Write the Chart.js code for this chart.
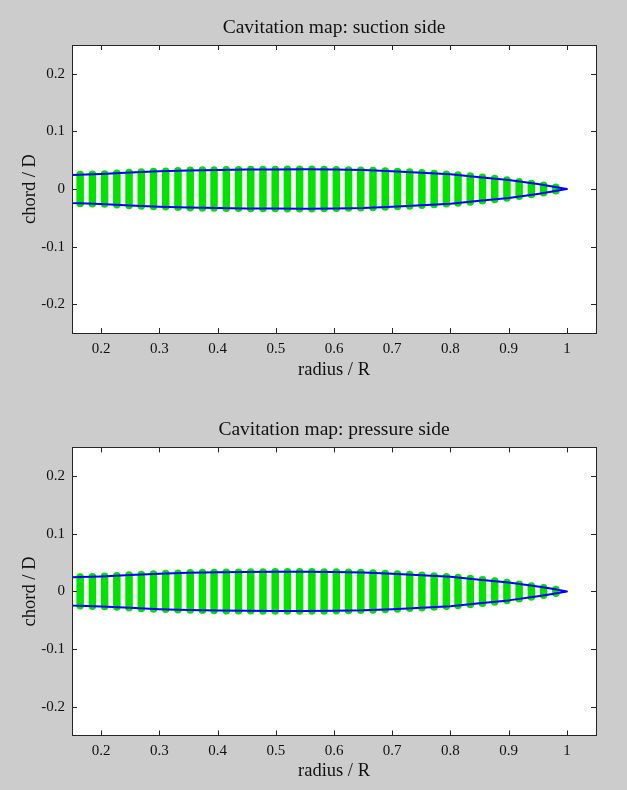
<!DOCTYPE html>
<html>
<head>
<meta charset="utf-8">
<script src="https://cdn.jsdelivr.net/npm/chart.js@4.4.1/dist/chart.umd.min.js"></script>
<style>
  html, body { margin: 0; padding: 0; background: #cccccc; }
  canvas { display: block; }
</style>
</head>
<body>
<canvas id="suction" width="627" height="395"></canvas>
<canvas id="pressure" width="627" height="395"></canvas>
<script>
// ─── Data ────────────────────────────────────────────────────────────────────
const X_TICKS = [0.2, 0.3, 0.4, 0.5, 0.6, 0.7, 0.8, 0.9, 1];
const Y_TICKS = [-0.2, -0.1, 0, 0.1, 0.2];

// radial stations of the green panel columns
const COL_R = [
  0.164, 0.185, 0.206, 0.227, 0.248, 0.269, 0.290, 0.311, 0.332, 0.353,
  0.374, 0.394, 0.415, 0.436, 0.457, 0.478, 0.499, 0.520, 0.541, 0.562,
  0.583, 0.604, 0.625, 0.646, 0.667, 0.688, 0.709, 0.730, 0.751, 0.772,
  0.793, 0.813, 0.834, 0.855, 0.876, 0.897, 0.918, 0.939, 0.960, 0.981,
];
// chordwise extent of each column (leading / trailing edge, chord / D)
const COL_UP = [
  0.0250, 0.0255, 0.0262, 0.0272, 0.0285, 0.0295, 0.0303, 0.0310, 0.0318, 0.0324,
  0.0328, 0.0331, 0.0333, 0.0335, 0.0337, 0.0339, 0.0340, 0.0341, 0.0341, 0.0341,
  0.0339, 0.0336, 0.0332, 0.0327, 0.0320, 0.0312, 0.0303, 0.0293, 0.0282, 0.0270,
  0.0257, 0.0243, 0.0225, 0.0205, 0.0182, 0.0155, 0.0126, 0.0096, 0.0064, 0.0032,
];
const COL_LO = [
  -0.0250, -0.0255, -0.0262, -0.0272, -0.0285, -0.0295, -0.0303, -0.0310, -0.0318, -0.0324,
  -0.0328, -0.0331, -0.0333, -0.0335, -0.0337, -0.0339, -0.0340, -0.0341, -0.0341, -0.0341,
  -0.0339, -0.0336, -0.0332, -0.0327, -0.0320, -0.0312, -0.0303, -0.0293, -0.0282, -0.0270,
  -0.0257, -0.0243, -0.0225, -0.0205, -0.0182, -0.0155, -0.0126, -0.0096, -0.0064, -0.0032,
];

// blade outline (blue)
const OUTLINE_R  = [0.15, 0.20, 0.25, 0.30, 0.35, 0.40, 0.45, 0.50, 0.55, 0.60,
                    0.65, 0.70, 0.75, 0.80, 0.85, 0.90, 0.95, 0.975, 1.00];
const OUTLINE_UP = [0.0245, 0.0260, 0.0285, 0.0307, 0.0323, 0.0332, 0.0337, 0.0340, 0.0341, 0.0337,
                    0.0328, 0.0307, 0.0283, 0.0257, 0.0205, 0.0155, 0.0085, 0.0045, 0.0];
const OUTLINE_LO = [-0.0245, -0.0260, -0.0285, -0.0307, -0.0323, -0.0332, -0.0337, -0.0340, -0.0341, -0.0337,
                    -0.0328, -0.0307, -0.0283, -0.0257, -0.0205, -0.0155, -0.0085, -0.0045, 0.0];

const SERIF = "'Liberation Serif', 'Times New Roman', serif";
const INK = '#111111';
const GREEN = 'rgb(0,226,0)';
const BLUE = '#0000ff';

// ─── Helpers ──────────────────────────────────────────────────────────────────
function columnPoints() {
  const pts = [];
  COL_R.forEach((r, i) => {
    pts.push({ x: r, y: COL_LO[i] }, { x: r, y: COL_UP[i] }, { x: r, y: null });
  });
  return pts;
}

function outlinePoints() {
  const pts = OUTLINE_R.map((r, i) => ({ x: r, y: OUTLINE_UP[i] }));
  for (let i = OUTLINE_R.length - 1; i >= 0; i--) pts.push({ x: OUTLINE_R[i], y: OUTLINE_LO[i] });
  pts.push({ x: OUTLINE_R[0], y: OUTLINE_UP[0] });
  return pts;
}

// white axes box + inward ticks on all four sides (matlab look)
const frame = {
  id: 'frame',
  beforeDraw(chart) {
    const { ctx, chartArea: a } = chart;
    ctx.save();
    ctx.fillStyle = '#ffffff';
    ctx.fillRect(a.left, a.top, a.right - a.left, a.bottom - a.top);
    ctx.restore();
  },
  afterDatasetsDraw(chart) {
    const { ctx, chartArea: a, scales } = chart;
    const L = 5;
    ctx.save();
    ctx.strokeStyle = '#262626';
    ctx.lineWidth = 1;
    ctx.beginPath();
    scales.x.ticks.forEach(t => {
      const px = Math.round(scales.x.getPixelForValue(t.value)) + 0.5;
      ctx.moveTo(px, a.bottom); ctx.lineTo(px, a.bottom - L);
      ctx.moveTo(px, a.top);    ctx.lineTo(px, a.top + L);
    });
    scales.y.ticks.forEach(t => {
      const py = Math.round(scales.y.getPixelForValue(t.value)) + 0.5;
      ctx.moveTo(a.left, py);  ctx.lineTo(a.left + L, py);
      ctx.moveTo(a.right, py); ctx.lineTo(a.right - L, py);
    });
    ctx.stroke();
    ctx.strokeRect(Math.round(a.left) + 0.5, Math.round(a.top) + 0.5,
                   Math.round(a.right - a.left), Math.round(a.bottom - a.top));
    ctx.restore();
  },
};

function makeChart(id, title, lay) {
  const tickFont = { family: SERIF, size: 15 };
  const labelFont = { family: SERIF, size: 18.5 };
  return new Chart(document.getElementById(id), {
    type: 'line',
    data: {
      datasets: [
        {
          data: columnPoints(),
          borderColor: GREEN,
          borderWidth: 7.5,
          borderCapStyle: 'round',
          pointRadius: 0,
          spanGaps: false,
          order: 2,
        },
        {
          data: outlinePoints(),
          borderColor: BLUE,
          borderWidth: 2,
          borderJoinStyle: 'round',
          pointRadius: 0,
          tension: 0,
          order: 1,
        },
      ],
    },
    options: {
      responsive: false,
      animation: false,
      events: [],
      layout: { padding: { left: 16, right: 31, top: 0, bottom: lay.padBottom } },
      plugins: {
        legend: { display: false },
        tooltip: { enabled: false },
        title: {
          display: true, fullSize: false, text: title, color: INK,
          font: { family: SERIF, size: 19.5, weight: 'normal', lineHeight: 1.2 },
          padding: { top: lay.titleTop, bottom: lay.titleBottom },
        },
      },
      scales: {
        x: {
          type: 'linear', min: 0.15, max: 1.05,
          afterBuildTicks: s => { s.ticks = X_TICKS.map(v => ({ value: v })); },
          afterFit: s => { s.height = lay.xHeight; },
          grid: { display: false, drawTicks: false },
          border: { display: false },
          ticks: { padding: 7, color: INK, font: tickFont, maxRotation: 0, callback: v => String(v) },
          title: { display: true, text: 'radius / R', color: INK, font: labelFont, padding: { top: 4, bottom: 4 } },
        },
        y: {
          type: 'linear', min: -0.25, max: 0.25,
          afterBuildTicks: s => { s.ticks = Y_TICKS.map(v => ({ value: v })); },
          afterFit: s => { s.width = 56; },
          grid: { display: false, drawTicks: false },
          border: { display: false },
          ticks: { padding: 7, color: INK, font: tickFont, callback: v => String(v) },
          title: { display: true, text: 'chord / D', color: INK, font: labelFont, padding: { top: 3, bottom: 3 } },
        },
      },
    },
    plugins: [frame],
  });
}

// ─── Bootstrap ────────────────────────────────────────────────────────────────
// title block height = 19.5*1.2 + paddings; x box height keeps the axes box where the reference has it
makeChart('suction', 'Cavitation map: suction side',
  { titleTop: 16, titleBottom: 5.6, xHeight: 52, padBottom: 10 });
makeChart('pressure', 'Cavitation map: pressure side',
  { titleTop: 23, titleBottom: 6, xHeight: 51, padBottom: 3.5 });
</script>
</body>
</html>
